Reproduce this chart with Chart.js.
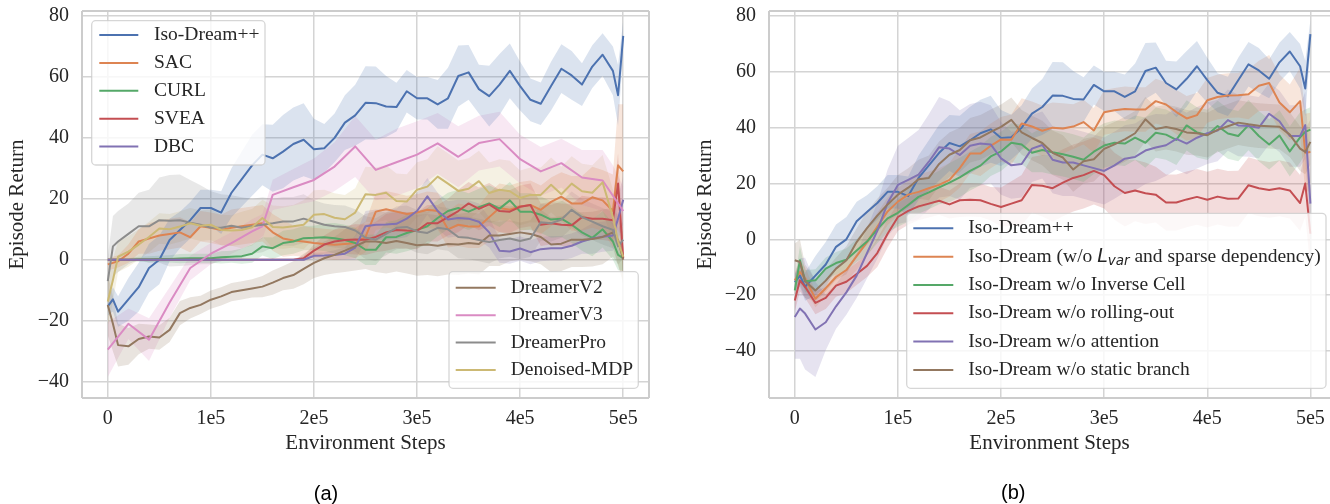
<!DOCTYPE html>
<html>
<head>
<meta charset="utf-8">
<script src="https://cdn.jsdelivr.net/npm/chart.js@4.4.1/dist/chart.umd.min.js"></script>
<style>
  html, body { margin: 0; padding: 0; background: #fff; overflow: hidden; }
  #chartA { position: absolute; left: 0; top: 0; }
  #chartB { position: absolute; left: 690px; top: 0; }
</style>
</head>
<body>
<canvas id="chartA" width="652" height="504"></canvas>
<canvas id="chartB" width="640" height="504"></canvas>
<script>
// ---- shared axes ----
const xTicks = [0, 100000, 200000, 300000, 400000, 500000];
const xTickLabels = ['0', '1e5', '2e5', '3e5', '4e5', '5e5'];
const yTicks = [-40, -20, 0, 20, 40, 60, 80];
const yTickLabels = ['\u221240', '\u221220', '0', '20', '40', '60', '80'];

// environment steps at which runs were logged
const steps = [0, 5000, 10000, 20000, 30000, 40000, 50000, 60000, 70000, 80000, 90000,
  100000, 110000, 120000, 130000, 140000, 150000, 160000, 170000, 180000, 190000,
  200000, 210000, 220000, 230000, 240000, 250000, 260000, 270000, 280000, 290000,
  300000, 310000, 320000, 330000, 340000, 350000, 360000, 370000, 380000, 390000,
  400000, 410000, 420000, 430000, 440000, 450000, 460000, 470000, 480000, 490000,
  495000, 500000];

// ---- panel (a) ----
const isoDreamPP = [-15.3, -13, -17, -13, -9, -2.7, 0, 6.5, 9.8, 13, 17,
  17, 15.5, 22, 26.5, 31, 34.5, 33.3, 35.5, 38, 39.4,
  36.3, 36.6, 40, 45, 47.4, 51.5, 51.4, 50.3, 50.1, 55.3,
  53, 53, 51, 53, 60.3, 61.5, 56, 53.7, 57.5, 62,
  57, 52.5, 51.2, 57, 62.7, 60.5, 57.5, 63.4, 67.3, 62,
  54, 73.5];
const isoDreamPPSd = [3, 4, 5, 7, 8, 8, 8, 7, 6, 6, 6,
  6, 7, 8, 9, 10, 10, 11, 12, 12, 12,
  10, 8, 8, 9, 10, 12, 12, 10, 8, 7,
  7, 7, 8, 10, 10, 9, 8, 10, 10, 9,
  8, 7, 7, 8, 8, 8, 7, 7, 7, 8,
  10, 5];

const sac = [-1.5, -1, -0.5, 2, 6, 7, 8, 8.5, 9, 7.4, 11,
  10.5, 9.8, 10.5, 11, 11.5, 12, 9, 7, 6.3, 6,
  5.5, 5.2, 4.9, 5.2, 5.5, 7.5, 15.8, 16.6, 15.8, 15,
  15.5, 16.4, 16, 10, 11.5, 10.9, 10.9, 14, 17, 16.4,
  17.5, 18, 16.4, 19, 20.7, 18.5, 18.5, 20.5, 19.5, 16,
  31, 29];
const sacSd = [2, 2, 2, 3, 4, 5, 5, 5, 5, 5, 5,
  5, 5, 6, 6, 6, 6, 6, 6, 5, 5,
  5, 5, 5, 5, 5, 5, 6, 6, 6, 6,
  6, 6, 6, 6, 7, 7, 7, 8, 8, 8,
  8, 8, 8, 8, 8, 9, 9, 10, 10, 12,
  20, 22];

const curl = [0, 0, 0, 0, 0.2, 0.2, 0.3, 0.3, 0.4, 0.5, 0.5,
  0.5, 0.8, 1, 1.2, 2, 4.4, 3.8, 5.5, 6, 7.1,
  7.2, 7.4, 7.1, 6.5, 5.5, 3.3, 3.3, 7.4, 7.5, 8.8,
  9.8, 11, 13.7, 16, 17, 15.8, 17.3, 18.5, 16.8, 19.5,
  15.8, 15.8, 14.8, 13.2, 13.5, 11.5, 9, 7.2, 10, 6,
  1.6, 0.5];
const curlSd = [0.5, 0.5, 0.5, 0.5, 0.8, 1, 1, 1.2, 1.5, 1.5, 1.5,
  1.5, 2, 2, 2.5, 3, 3, 3.5, 4, 4, 4,
  4, 4.5, 5, 5, 5, 5, 5, 5, 5.5, 6,
  6, 6, 6, 6, 6, 6, 6, 6, 6, 6,
  6, 6, 6, 6, 6, 6, 6, 6, 6, 6,
  5, 4];

const svea = [0, 0, 0, 0, 0, 0, 0, 0, 0, 0, 0,
  0, 0, 0, 0, 0, 0, 0, 0, 0, 0.5,
  3, 5, 6, 6.5, 6.7, 6.6, 7.5, 9, 9.8, 9.6,
  9.5, 12, 12, 14, 16, 18.5, 16.7, 18.2, 16, 15.8,
  17.4, 18, 11.5, 12, 11.5, 11.3, 14, 13.5, 13.5, 13,
  25, 0.5];
const sveaSd = [0.3, 0.3, 0.3, 0.3, 0.3, 0.3, 0.3, 0.3, 0.3, 0.3, 0.3,
  0.3, 0.3, 0.3, 0.3, 0.3, 0.3, 0.3, 0.3, 0.3, 0.8,
  2, 3, 4, 4.5, 5, 5, 5, 6, 6, 6,
  6, 6, 6, 6, 7, 7, 7, 7, 7, 7,
  7, 7, 7, 7, 7, 7, 7, 7, 7, 7,
  10, 6];

const dbc = [0, 0, 0, 0, 0, 0, 0, 0, 0, 0, 0,
  0, 0, 0, 0, 0, 0, 0, 0, 0, 0,
  1.3, 1.4, 1.6, 2, 4, 11, 11.5, 11.6, 11.8, 13.5,
  16, 20.8, 16, 13.2, 13.7, 13.5, 12.5, 9, 3, 2.7,
  3.7, 2.5, 3.5, 3.8, 3.8, 4.6, 6, 7, 7.6, 8,
  13.5, 19.7];
const dbcSd = [0.3, 0.3, 0.3, 0.3, 0.3, 0.3, 0.3, 0.3, 0.3, 0.3, 0.3,
  0.3, 0.3, 0.3, 0.3, 0.3, 0.3, 0.3, 0.3, 0.3, 0.3,
  1, 1, 1.5, 2, 4, 5, 5, 5, 5, 6,
  6, 6, 6, 6, 6, 6, 6, 5, 4, 4,
  4, 4, 4, 4, 4, 4, 4, 5, 5, 5,
  7, 8];

const dreamerV2 = [-14.8, -21, -28, -28.4, -26, -25.2, -25.5, -23, -17.5, -15.8, -14.8,
  -13.1, -12, -10.6, -10, -9.4, -8.8, -7.5, -6, -5, -3,
  -1, 0.5, 1.6, 3, 4.5, 6, 6, 5.5, 6.2, 5.5,
  4.8, 5, 4.6, 5.2, 5, 5.5, 5.2, 8, 8, 8.5,
  9, 8.5, 7.5, 5, 5.3, 6.6, 6.6, 6.8, 7.5, 9,
  6.5, 0];
const dreamerV2Sd = [10, 9, 7, 6, 5, 4, 4, 4, 4, 3.5, 3,
  3, 3, 3, 3, 3, 3.5, 4, 4, 4.5, 5,
  5, 5.5, 6, 7, 8, 9, 10, 10, 10, 10,
  10, 10, 10, 10, 10, 10, 10, 10, 10, 9,
  9, 9, 9, 9, 9, 9, 9, 9, 9, 8,
  8, 8];

// DreamerV3 was logged less often
const dreamerV3Steps = [0, 20000, 40000, 60000, 80000, 100000, 120000, 140000, 150000, 160000,
  180000, 200000, 220000, 240000, 260000, 280000, 300000, 320000, 340000, 360000,
  380000, 400000, 420000, 440000, 460000, 480000, 490000, 500000];
const dreamerV3 = [-29.5, -21, -26.2, -14, -2.7, 2, 5.5, 9.3, 11, 21.3,
  23.8, 26.2, 30.6, 37.2, 29.5, 32, 34.5, 38.2, 33.8, 38.3,
  39.6, 33, 29, 31.7, 27, 26, 21, 16];
const dreamerV3Sd = [9, 5, 7, 5, 4, 3.5, 3.5, 4, 4, 5,
  6, 7, 8, 10, 10, 11, 11, 10, 10, 9,
  9, 8, 8, 8, 9, 10, 10, 8];

const dreamerPro = [-7, 4.4, 6, 8.5, 11, 11, 13, 12.8, 13, 12.2, 11.5,
  10.5, 10.5, 11.2, 10.5, 11, 11.5, 12, 12.6, 12.6, 13.5,
  12.5, 11.5, 11, 10.8, 9.6, 7.3, 6.6, 8.5, 10.5, 10.8,
  9.3, 8.8, 10.5, 10, 7.5, 7.2, 6.5, 5.8, 6.5, 7,
  6.2, 7, 12.3, 12, 13.2, 16.4, 14, 12.5, 11, 9.8,
  4.4, 6.6];
const dreamerProSd = [8, 10, 10, 10, 11, 12, 14, 15, 15, 14, 13,
  12, 11, 10, 10, 9, 9, 8, 8, 8, 8,
  7, 7, 7, 7, 7, 7, 7, 7, 7, 7,
  7, 7, 7, 7, 7, 7, 7, 7, 6, 6,
  6, 6, 6, 6, 6, 6, 6, 6, 6, 6,
  6, 6];

const denoisedMDP = [-13.7, -6.6, 1, 2.7, 5, 7.5, 10.3, 10, 10.9, 12, 11.2,
  11.5, 9.8, 9.6, 9.8, 10.7, 13.7, 10.8, 10.6, 11, 11.5,
  14.8, 15, 13.8, 13.3, 15.5, 21.5, 21.3, 22, 19.3, 19.1,
  23, 24, 27.3, 25, 22.6, 23.3, 25.8, 21.9, 23, 22.5,
  20.3, 21.3, 21.3, 24.6, 21.5, 25, 22.5, 22, 25.4, 14,
  6, 1];
const denoisedMDPSd = [8, 7, 5, 5, 5, 5, 5, 5, 5, 5, 5,
  5, 5, 5, 6, 6, 6, 7, 7, 7, 8,
  8, 8, 8, 8, 8, 9, 9, 9, 9, 9,
  9, 9, 10, 10, 10, 10, 10, 10, 10, 10,
  9, 9, 9, 9, 9, 9, 9, 9, 9, 9,
  8, 8];

// ---- panel (b) ----
const noLvar = [-14.7, -11.7, -14, -21.3, -17.5, -13.5, -11, -6, -1, 4.5, 10,
  13.5, 16, 17, 18.3, 19.5, 21.3, 25.5, 30.7, 30.7, 33.5,
  35.8, 35.7, 41.5, 40.4, 38.9, 40, 39.7, 40.4, 42, 39,
  45.5, 46.2, 46.7, 46.5, 46.5, 49.5, 48.3, 45.6, 43.3, 44.5,
  49.8, 51, 51.5, 51.6, 52, 55, 56, 49, 45.5, 49.5,
  31, 31.3];
const noLvarSd = [3, 4, 4, 3, 3, 3, 4, 5, 5, 5, 5,
  5, 5, 6, 6, 6, 6, 7, 7, 8, 8,
  8, 9, 9, 9, 9, 9, 9, 8, 8, 8,
  8, 8, 8, 8, 8, 8, 8, 8, 8, 8,
  8, 8, 8, 8, 9, 9, 10, 10, 10, 12,
  14, 14];

const noInverseCell = [-18.3, -7.5, -15, -14.7, -10.5, -8.5, -7.3, -4, -0.8, 3.6, 7.5,
  9.5, 12.3, 15.2, 16.8, 18.6, 20.3, 22.2, 24.5, 26.4, 29.7,
  31.5, 34.6, 34, 31, 32, 31.2, 30.5, 29.6, 28.5, 31.4,
  33.6, 34.6, 34.3, 36.4, 34.6, 38.2, 37.5, 35.6, 40.8, 38.3,
  37.4, 40.6, 37.9, 37, 40.9, 37, 34, 37.2, 31.5, 36.5,
  38.5, 39.3];
const noInverseCellSd = [4, 5, 4, 4, 4, 4, 4, 4, 5, 5, 5,
  5, 6, 6, 6, 6, 7, 7, 7, 7, 7,
  7, 7, 7, 7, 8, 8, 8, 8, 8, 8,
  8, 8, 8, 8, 9, 9, 9, 9, 9, 9,
  9, 9, 9, 9, 9, 9, 9, 9, 9, 9,
  8, 8];

const noRollingOut = [-21.9, -14.7, -17, -22.8, -21, -16.6, -15.2, -12.4, -9.5, -4.9, 2,
  8, 10.2, 11.8, 12.8, 13.8, 12.5, 14, 14.2, 14, 12.7,
  11.6, 12.8, 14, 19.5, 19.2, 18.3, 20.3, 22, 23, 24.5,
  23, 19, 16.6, 17.5, 16.5, 16, 13.2, 13.2, 14.3, 15.2,
  14.2, 15.3, 14.5, 14.6, 19.4, 18.3, 17.7, 18.3, 17.5, 13,
  20, 2];
const noRollingOutSd = [4, 4, 4, 4, 4, 4, 4, 4, 4, 5, 5,
  5, 5, 5, 5, 5, 5, 6, 6, 6, 6,
  7, 8, 9, 10, 11, 12, 12, 12, 12, 12,
  12, 12, 12, 11, 11, 10, 10, 10, 10, 10,
  10, 10, 10, 10, 10, 10, 10, 10, 10, 10,
  12, 12];

const noAttention = [-27.8, -24.8, -26.6, -32.3, -29.7, -24, -19, -13, -5, 3, 13,
  19.5, 21.3, 23.2, 27.8, 33, 32.5, 30.2, 33.5, 34.3, 34,
  29, 26.5, 27, 32.5, 33.8, 28.5, 27.5, 27.5, 26.5, 25.5,
  24.5, 26.5, 28.9, 29.5, 31.8, 32.9, 33.7, 36, 34.3, 36.4,
  38, 39, 42.7, 40.8, 40.6, 40, 45, 42.3, 37, 37,
  40.9, 12.8];
const noAttentionSd = [15, 18, 20, 17, 10, 8, 8, 8, 9, 10, 12,
  14, 15, 16, 17, 18, 17, 16, 15, 15, 14,
  13, 12, 12, 12, 12, 12, 12, 12, 12, 12,
  12, 12, 12, 12, 12, 12, 11, 11, 11, 11,
  11, 11, 11, 11, 11, 11, 11, 11, 11, 11,
  12, 12];

const noStaticBranch = [-7.5, -8.1, -15, -18.3, -14.8, -10.5, -7.5, -1, 4, 8.5, 12.5,
  16, 18.5, 21.5, 22, 27, 30.3, 32, 35.5, 36.5, 38.5,
  40.3, 42.8, 38.3, 36.3, 34.5, 31, 29.3, 25, 28, 28.7,
  32.4, 34, 35.8, 38, 43, 39.5, 40.2, 39.5, 38.3, 38,
  37.3, 39.2, 40.5, 41.8, 41.2, 40.7, 40.5, 40.3, 37.5, 32.5,
  31.3, 34.9];
const noStaticBranchSd = [6, 8, 6, 4, 4, 4, 5, 5, 6, 6, 6,
  7, 7, 7, 8, 8, 8, 8, 8, 8, 8,
  8, 8, 8, 8, 8, 8, 8, 8, 8, 8,
  8, 8, 8, 8, 8, 8, 8, 8, 8, 8,
  8, 8, 8, 8, 8, 8, 8, 8, 8, 8,
  8, 8];

// seaborn "deep" palette
const BLUE = '#4C72B0', ORANGE = '#DD8452', GREEN = '#55A868', RED = '#C44E52',
  PURPLE = '#8172B3', BROWN = '#937860', PINK = '#DA8BC3', GREY = '#8C8C8C', OLIVE = '#CCB974';
const TEXT = '#262626';
const GRID = '#d4d4d4';
const SERIF = '"Liberation Serif", "Times New Roman", serif';

const seriesA = [
  { label: 'Iso-Dream++', color: BLUE, x: steps, y: isoDreamPP, sd: isoDreamPPSd },
  { label: 'SAC', color: ORANGE, x: steps, y: sac, sd: sacSd },
  { label: 'CURL', color: GREEN, x: steps, y: curl, sd: curlSd },
  { label: 'SVEA', color: RED, x: steps, y: svea, sd: sveaSd },
  { label: 'DBC', color: PURPLE, x: steps, y: dbc, sd: dbcSd },
  { label: 'DreamerV2', color: BROWN, x: steps, y: dreamerV2, sd: dreamerV2Sd },
  { label: 'DreamerV3', color: PINK, x: dreamerV3Steps, y: dreamerV3, sd: dreamerV3Sd },
  { label: 'DreamerPro', color: GREY, x: steps, y: dreamerPro, sd: dreamerProSd },
  { label: 'Denoised-MDP', color: OLIVE, x: steps, y: denoisedMDP, sd: denoisedMDPSd },
];

const seriesB = [
  { label: 'Iso-Dream++', color: BLUE, x: steps, y: isoDreamPP, sd: isoDreamPPSd },
  { label: 'Iso-Dream (w/o L_var and sparse dependency)', color: ORANGE, x: steps, y: noLvar, sd: noLvarSd },
  { label: 'Iso-Dream w/o Inverse Cell', color: GREEN, x: steps, y: noInverseCell, sd: noInverseCellSd },
  { label: 'Iso-Dream w/o rolling-out', color: RED, x: steps, y: noRollingOut, sd: noRollingOutSd },
  { label: 'Iso-Dream w/o attention', color: PURPLE, x: steps, y: noAttention, sd: noAttentionSd },
  { label: 'Iso-Dream w/o static branch', color: BROWN, x: steps, y: noStaticBranch, sd: noStaticBranchSd },
];

const hexToRgba = (hex, a) => {
  const n = parseInt(hex.slice(1), 16);
  return `rgba(${(n >> 16) & 255}, ${(n >> 8) & 255}, ${n & 255}, ${a})`;
};

// three datasets per series: upper edge, lower edge (filled to upper), mean line
function buildDatasets(series) {
  const out = [];
  series.forEach((s, i) => {
    out.push({
      data: s.x.map((x, j) => ({ x, y: s.y[j] + s.sd[j] })),
      borderColor: 'transparent', borderWidth: 0, pointRadius: 0, fill: false, order: 100,
    });
    out.push({
      data: s.x.map((x, j) => ({ x, y: s.y[j] - s.sd[j] })),
      borderColor: 'transparent', borderWidth: 0, pointRadius: 0,
      fill: '-1', backgroundColor: hexToRgba(s.color, 0.2), order: 100,
    });
    out.push({
      label: s.label,
      data: s.x.map((x, j) => ({ x, y: s.y[j] })),
      borderColor: s.color, borderWidth: 2, pointRadius: 0, fill: false,
      borderJoinStyle: 'round', tension: 0,
      order: -i, // later series on top, like matplotlib
    });
  });
  return out;
}

function drawLegendText(ctx, text, x, y) {
  const serif = '19.5px ' + SERIF;
  const parts = text.split('L_var');
  ctx.font = serif;
  ctx.fillText(parts[0], x, y);
  if (parts.length === 1) return;
  let cx = x + ctx.measureText(parts[0]).width;
  ctx.font = 'italic 19px "DejaVu Sans", sans-serif';
  ctx.fillText('L', cx, y);
  cx += ctx.measureText('L').width;
  ctx.font = 'italic 13.5px "DejaVu Sans", sans-serif';
  ctx.fillText('var', cx, y + 5);
  cx += ctx.measureText('var').width;
  ctx.font = serif;
  ctx.fillText(parts[1], cx, y);
}

function roundRect(ctx, x, y, w, h, r) {
  ctx.beginPath();
  ctx.moveTo(x + r, y);
  ctx.arcTo(x + w, y, x + w, y + h, r);
  ctx.arcTo(x + w, y + h, x, y + h, r);
  ctx.arcTo(x, y + h, x, y, r);
  ctx.arcTo(x, y, x + w, y, r);
  ctx.closePath();
}

const decorPlugin = {
  id: 'decor',
  afterDatasetsDraw(chart, args, opts) {
    const { ctx, chartArea: a } = chart;
    ctx.save();
    ctx.strokeStyle = '#cccccc';
    ctx.lineWidth = 2;
    ctx.beginPath();
    ctx.moveTo(a.left, a.top); ctx.lineTo(a.right, a.top);
    ctx.moveTo(a.left, a.top); ctx.lineTo(a.left, a.bottom);
    ctx.moveTo(a.left, a.bottom); ctx.lineTo(a.right, a.bottom);
    if (opts.rightEdge) { ctx.moveTo(a.right, a.top); ctx.lineTo(a.right, a.bottom); }
    ctx.stroke();
    ctx.restore();
  },
  afterDraw(chart, args, opts) {
    const ctx = chart.ctx;
    const series = opts.series;
    ctx.save();
    opts.boxes.forEach(b => {
      roundRect(ctx, b.x, b.y, b.w, b.h, 4);
      ctx.fillStyle = 'rgba(255,255,255,0.8)';
      ctx.fill();
      ctx.strokeStyle = 'rgba(204,204,204,0.8)';
      ctx.lineWidth = 1.3;
      ctx.stroke();
      b.items.forEach((idx, r) => {
        const y = b.rowY + r * b.rowStep;
        ctx.strokeStyle = series[idx].color;
        ctx.lineWidth = 2;
        ctx.beginPath();
        ctx.moveTo(b.lineX0, y);
        ctx.lineTo(b.lineX1, y);
        ctx.stroke();
        ctx.fillStyle = TEXT;
        ctx.textBaseline = 'middle';
        ctx.textAlign = 'left';
        drawLegendText(ctx, series[idx].label, b.textX, y);
      });
    });
    ctx.font = '20px "Liberation Sans", Arial, sans-serif';
    ctx.fillStyle = '#000';
    ctx.textAlign = 'center';
    ctx.textBaseline = 'middle';
    ctx.fillText(opts.caption.text, opts.caption.x, opts.caption.y);
    ctx.restore();
  },
};

function makeChart(id, series, cfg) {
  return new Chart(document.getElementById(id), {
    type: 'line',
    data: { datasets: buildDatasets(series) },
    plugins: [decorPlugin],
    options: {
      responsive: false,
      animation: false,
      devicePixelRatio: 1,
      events: [],
      layout: { padding: cfg.padding },
      plugins: {
        legend: { display: false },
        tooltip: { enabled: false },
        filler: { drawTime: 'beforeDatasetsDraw' },
        decor: { series, boxes: cfg.boxes, caption: cfg.caption, rightEdge: cfg.rightEdge },
      },
      scales: {
        x: {
          type: 'linear',
          min: cfg.xMin,
          max: cfg.xMax,
          afterBuildTicks: s => { s.ticks = xTicks.map(v => ({ value: v })); },
          afterFit: s => { s.height = 106; s.paddingLeft = 0; s.paddingRight = 0; },
          ticks: {
            autoSkip: false, maxRotation: 0, padding: 11, color: TEXT,
            font: { family: SERIF, size: 20, lineHeight: 1 },
            callback: (v, i) => xTickLabels[i],
          },
          grid: { color: GRID, lineWidth: 1.5, drawTicks: false },
          border: { display: false },
          title: {
            display: true, text: 'Environment Steps', color: TEXT,
            font: { family: SERIF, size: 21 }, padding: { top: 0, bottom: 48 },
          },
        },
        y: {
          type: 'linear',
          min: cfg.yMin,
          max: cfg.yMax,
          afterBuildTicks: s => { s.ticks = yTicks.map(v => ({ value: v })); },
          afterFit: s => { s.width = cfg.yAxisWidth; s.paddingTop = 0; s.paddingBottom = 0; },
          ticks: {
            padding: 13, color: TEXT,
            font: { family: SERIF, size: 20, lineHeight: 1 },
            callback: (v, i) => yTickLabels[i],
          },
          grid: { color: GRID, lineWidth: 1.5, drawTicks: false },
          border: { display: false },
          title: {
            display: true, text: 'Episode Return', color: TEXT,
            font: { family: SERIF, size: 21 }, padding: { top: cfg.yTitlePad, bottom: 0 },
          },
        },
      },
    },
  });
}

makeChart('chartA', seriesA, {
  xMin: -25000, xMax: 525000, yMin: -45.35, yMax: 81.64,
  padding: { left: 0, right: 3, top: 11, bottom: 0 },
  yAxisWidth: 82, yTitlePad: 5, rightEdge: true,
  boxes: [
    { x: 91.7, y: 20.7, w: 173.3, h: 144.3, rowY: 35, rowStep: 27.9, lineX0: 99.3, lineX1: 138.3, textX: 154, items: [0, 1, 2, 3, 4] },
    { x: 449, y: 271.7, w: 189.3, h: 116.6, rowY: 287.7, rowStep: 27.45, lineX0: 455.7, lineX1: 495.7, textX: 510.7, items: [5, 6, 7, 8] },
  ],
  caption: { text: '(a)', x: 326, y: 494 },
});

makeChart('chartB', seriesB, {
  xMin: -25000, xMax: 519000, yMin: -56.84, yMax: 81.79,
  padding: { left: 0, right: 0, top: 11, bottom: 0 },
  yAxisWidth: 79, yTitlePad: 3, rightEdge: false,
  boxes: [
    { x: 216.7, y: 213.3, w: 419.3, h: 175, rowY: 228.3, rowStep: 28.33, lineX0: 223.3, lineX1: 263.3, textX: 278.3, items: [0, 1, 2, 3, 4, 5] },
  ],
  caption: { text: '(b)', x: 323.3, y: 493.5 },
});
</script>
</body>
</html>
